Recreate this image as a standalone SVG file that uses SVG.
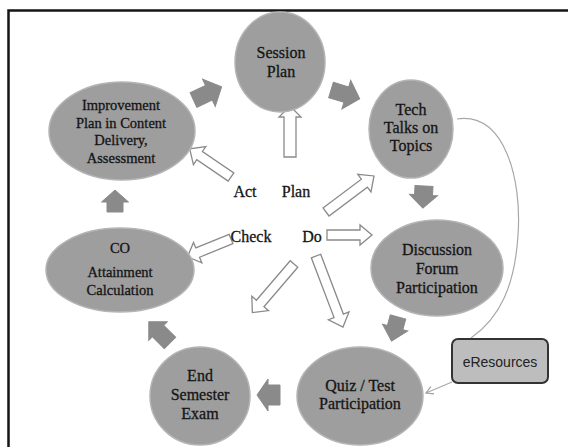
<svg xmlns="http://www.w3.org/2000/svg" width="568" height="447" viewBox="0 0 568 447">
<defs>
<style>
.node{fill:#9e9e9e;stroke:#b4b4b4;stroke-width:1.5}
.t{font-family:'Liberation Serif','Times New Roman',serif;font-size:16px;fill:#151515;stroke:#151515;stroke-width:0.3;text-anchor:middle}
.ts{font-size:14.5px}
.lbl{font-family:'Liberation Serif','Times New Roman',serif;font-size:16px;fill:#151515;stroke:#151515;stroke-width:0.3;text-anchor:middle}
.oarrow{fill:#fff;stroke:#8a8a8a;stroke-width:1.3;stroke-linejoin:miter}
.garrow{fill:#8a8a8a;stroke:#8a8a8a;stroke-width:1}
.thin{fill:none;stroke:#a8a8a8;stroke-width:1.2}
</style>
<marker id="ah" markerWidth="10" markerHeight="10" refX="8" refY="5" orient="auto" markerUnits="userSpaceOnUse">
<path d="M1,1 L8,5 L1,9" fill="none" stroke="#a0a0a0" stroke-width="1.2"/>
</marker>
</defs>
<rect width="568" height="447" fill="#fff"/>
<path d="M8.5,447 V10.5 H568" fill="none" stroke="#151515" stroke-width="2.5"/>

<g id="connectors">
<polygon class="oarrow" transform="translate(290,157) rotate(-90)" points="0,-6 40,-6 40,-11 51,0 40,11 40,6 0,6"/>
<polygon class="oarrow" transform="translate(231,177) rotate(214.3)" points="0,-5 38,-5 38,-11 50,0 38,11 38,5 0,5"/>
<polygon class="oarrow" transform="translate(326,212) rotate(-36.9)" points="0,-5 48,-5 48,-11 60,0 48,11 48,5 0,5"/>
<polygon class="oarrow" transform="translate(327,235) rotate(0)" points="0,-5 33,-5 33,-10 45,0 33,10 33,5 0,5"/>
<polygon class="oarrow" transform="translate(231,239) rotate(157.8)" points="0,-5 36,-5 36,-11 47,0 36,11 36,5 0,5"/>
<polygon class="oarrow" transform="translate(294,264) rotate(130.6)" points="0,-5 52,-5 52,-11 64,0 52,11 52,5 0,5"/>
<polygon class="oarrow" transform="translate(316,256) rotate(69.2)" points="0,-5 64,-5 64,-11 76,0 64,11 64,5 0,5"/>
<polygon class="garrow" transform="translate(193.5,100) rotate(-25)" points="0,-8 17,-8 17,-15 31,0 17,15 17,8 0,8"/>
<polygon class="garrow" transform="translate(331,90) rotate(17)" points="0,-8 16,-8 16,-15 30,0 16,15 16,8 0,8"/>
<polygon class="garrow" transform="translate(424,186) rotate(93)" points="0,-9 9,-9 9,-14 22,0 9,14 9,9 0,9"/>
<polygon class="garrow" transform="translate(398,317) rotate(105)" points="0,-8 11,-8 11,-13 25,0 11,13 11,8 0,8"/>
<polygon class="garrow" transform="translate(280,395) rotate(180)" points="0,-10 12,-10 12,-16 23,0 12,16 12,10 0,10"/>
<polygon class="garrow" transform="translate(170,343) rotate(225)" points="0,-8 17,-8 17,-13 30,0 17,13 17,8 0,8"/>
<polygon class="garrow" transform="translate(115,212) rotate(-90)" points="0,-8 10,-8 10,-13.5 22,0 10,13.5 10,8 0,8"/>
<path class="thin" d="M457,119 C505,112 522,180 518,235 C515,285 500,318 471,338"/>
<path class="thin" d="M452,382 L426,393" marker-end="url(#ah)"/>
</g>

<g font-family="Liberation Serif, Times New Roman, serif">
<g id="session-plan">
<ellipse class="node" cx="280" cy="62" rx="45" ry="50"/>
<text class="t" x="281" y="58">Session</text>
<text class="t" x="281" y="77">Plan</text>
</g>
<g id="tech-talks">
<ellipse class="node" cx="411" cy="129" rx="42" ry="49"/>
<text class="t" x="411" y="115">Tech</text>
<text class="t" x="411" y="133">Talks on</text>
<text class="t" x="411" y="151">Topics</text>
</g>
<g id="improvement-plan">
<ellipse class="node" cx="122" cy="131" rx="73" ry="49"/>
<text class="t ts" x="121" y="110">Improvement</text>
<text class="t ts" x="121" y="128">Plan in Content</text>
<text class="t ts" x="121" y="145">Delivery,</text>
<text class="t ts" x="121" y="163">Assessment</text>
</g>
<g id="co-attainment">
<ellipse class="node" cx="120" cy="270" rx="74" ry="42"/>
<text class="t ts" x="120" y="253">CO</text>
<text class="t ts" x="120" y="277">Attainment</text>
<text class="t ts" x="120" y="295">Calculation</text>
</g>
<g id="discussion-forum">
<ellipse class="node" cx="437" cy="268" rx="66" ry="48"/>
<text class="t" x="437" y="255">Discussion</text>
<text class="t" x="437" y="274">Forum</text>
<text class="t" x="437" y="293">Participation</text>
</g>
<g id="quiz-test">
<ellipse class="node" cx="360" cy="396" rx="63" ry="49"/>
<text class="t" x="360" y="391">Quiz / Test</text>
<text class="t" x="360" y="409">Participation</text>
</g>
<g id="end-semester">
<ellipse class="node" cx="200" cy="396" rx="50" ry="49"/>
<text class="t" x="200" y="381">End</text>
<text class="t" x="200" y="400">Semester</text>
<text class="t" x="200" y="419">Exam</text>
</g>
<g id="pdca-labels">
<text class="lbl" x="245" y="197">Act</text>
<text class="lbl" x="296" y="197">Plan</text>
<text class="lbl" x="251" y="242">Check</text>
<text class="lbl" x="312" y="242">Do</text>
</g>
</g>
<g id="eresources">
<rect x="452" y="339" width="96" height="44" rx="6" fill="#bdbdbd" stroke="#333" stroke-width="2"/>
<text x="500" y="367" font-family="Liberation Sans, Arial, sans-serif" font-size="14" fill="#222" text-anchor="middle">eResources</text>
</g>
</svg>
